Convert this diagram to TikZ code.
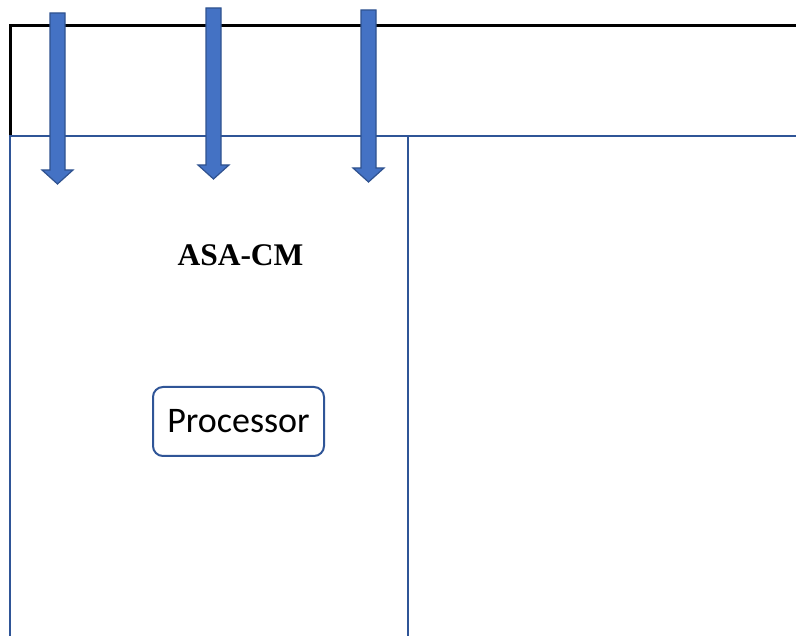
\documentclass[tikz,border=0pt]{standalone}
\usepackage{fontspec}
\setmainfont{Liberation Serif}
\newfontfamily\procfont{Carlito}
\definecolor{boxblue}{HTML}{2F5597}
\definecolor{arrowfill}{HTML}{4472C4}
\definecolor{arrowedge}{HTML}{2F528F}
\usepackage{tikz}
\usetikzlibrary{positioning}

\begin{document}
\begin{tikzpicture}[x=1pt,y=-1pt]
  \useasboundingbox (0,0) rectangle (796,636);
  % outer frame
  \draw[black,line width=3pt] (10,136) -- (10,26) -- (796,26);
  \draw[boxblue,line width=2.4pt] (10,636) -- (10,136) -- (796,136);
  \draw[boxblue,line width=2.4pt] (408,136) -- (408,636);
  % title and processor
  \node[font=\bfseries\fontsize{31.5}{36}\selectfont] (title) at (240.5,255) {ASA-CM};
  \node[draw=boxblue,line width=2pt,rounded corners=10pt,minimum width=171pt,minimum height=69pt,
        font=\procfont\fontsize{36}{42}\selectfont] (proc) at (238.5,421.5) {Processor};
  % arrows into the box
  \foreach \x/\ytop/\ytip in {57.5/13/184, 213.5/8/179, 368.5/10/182}
    \filldraw[fill=arrowfill,draw=arrowedge,line width=1.2pt]
      (\x-7.5,\ytop) -- (\x+7.5,\ytop) -- (\x+7.5,\ytip-14) -- (\x+15.5,\ytip-14)
      -- (\x,\ytip) -- (\x-15.5,\ytip-14) -- (\x-7.5,\ytip-14) -- cycle;
\end{tikzpicture}
\end{document}
